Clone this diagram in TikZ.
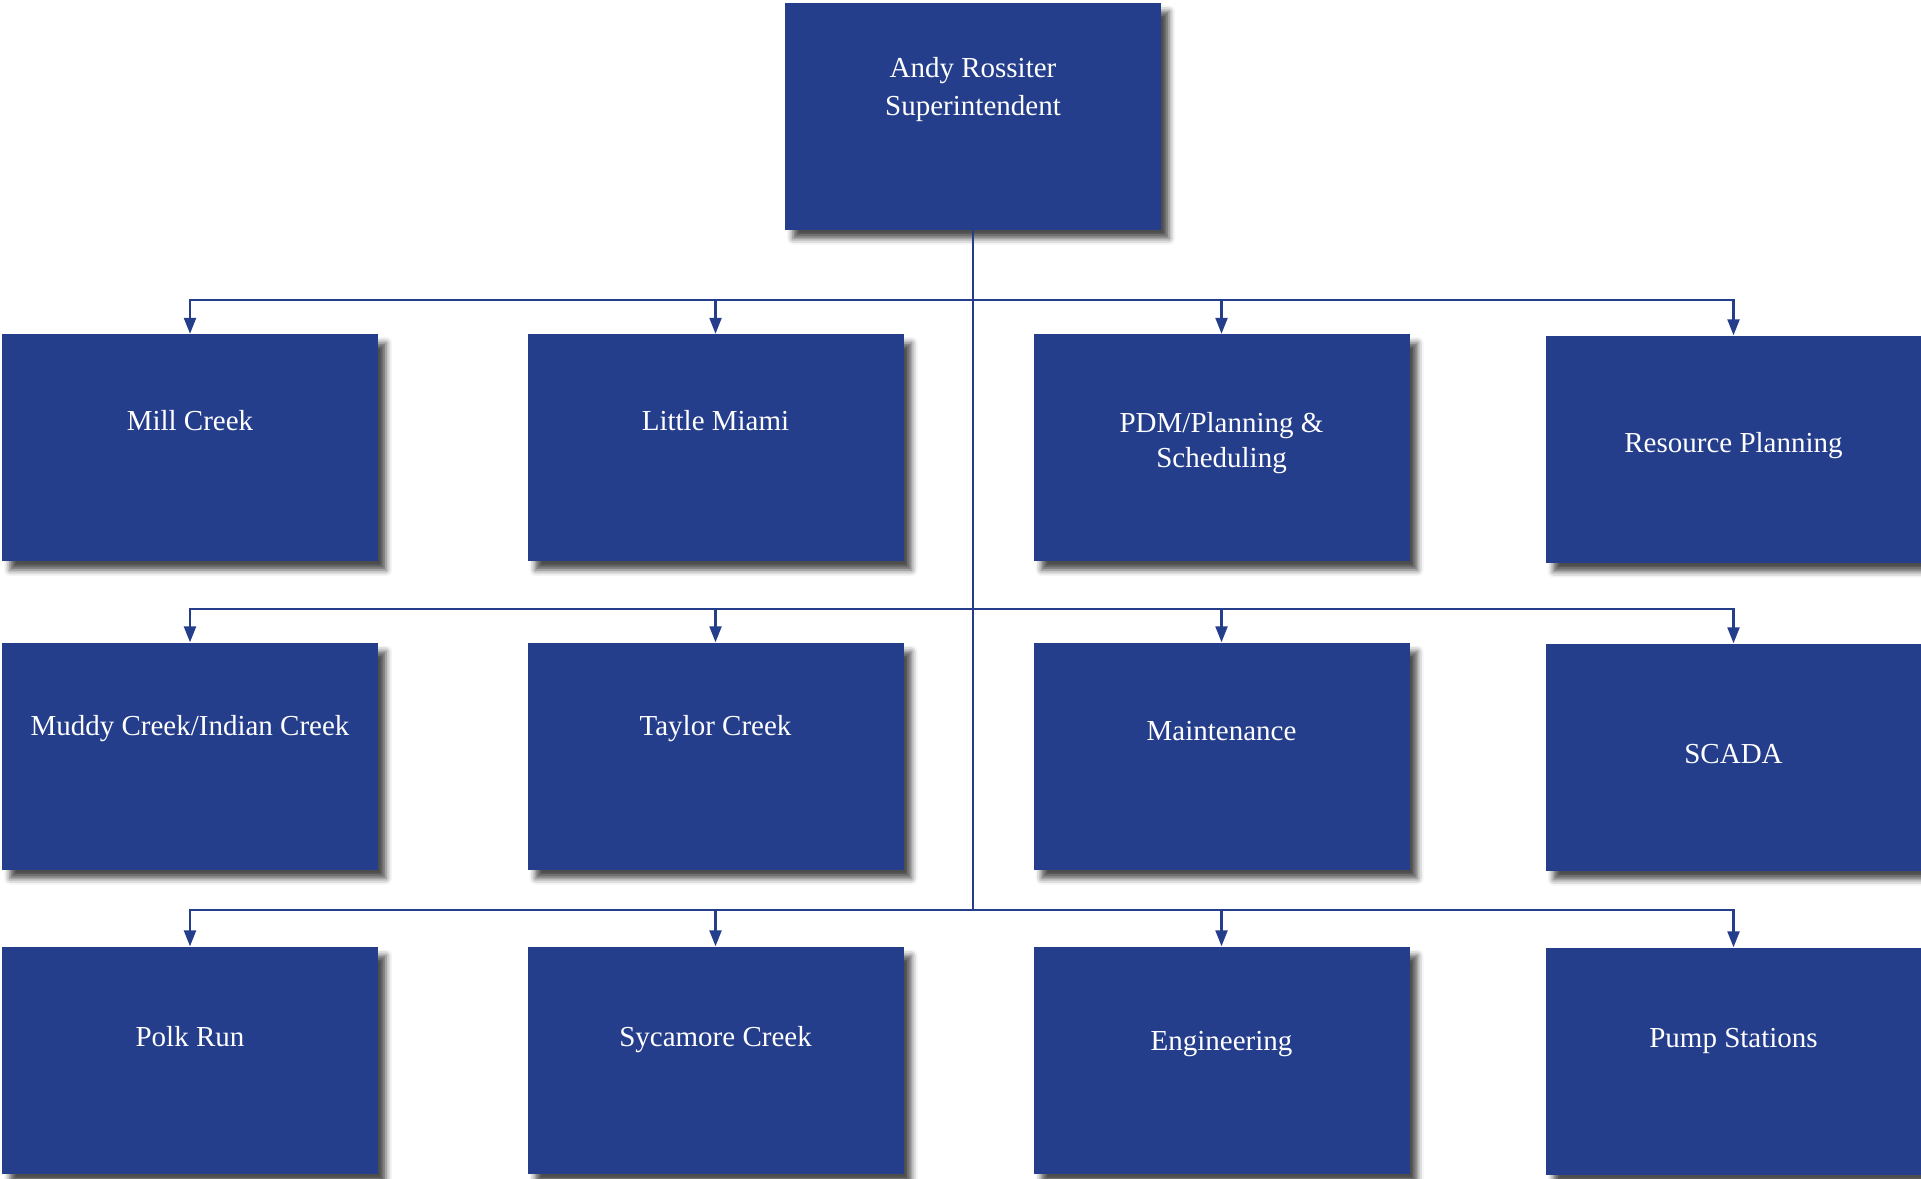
\documentclass[tikz,border=0pt]{standalone}
\usepackage{fontspec}
\setmainfont{Liberation Serif}
\usetikzlibrary{arrows.meta,shadows.blur}
\definecolor{orgblue}{RGB}{37,62,140}
\tikzset{
	unit/.style={fill=orgblue, text=white, minimum width=376pt, minimum height=227pt,
		inner sep=0pt, align=center, font=\fontsize{29}{35}\selectfont,
		blur shadow={shadow xshift=8pt, shadow yshift=-9pt, shadow blur radius=6pt, shadow opacity=70}},
	lift/.style={text depth=#1},
	trunk/.style={orgblue, line width=2.3pt},
	feed/.style={trunk, -{Triangle[length=16pt,width=12pt]}}
}
\begin{document}
\begin{tikzpicture}[x=1pt,y=-1pt]
	\useasboundingbox (0,0) rectangle (1921,1178);
	% head of the chart
	\node[unit, lift=60pt] (chief) at (973,116) {Andy Rossiter\\[3pt]Superintendent};
	% first row
	\node[unit, lift=55pt] (mill) at (190,447.5) {Mill Creek};
	\node[unit, lift=55pt] (miami) at (715.5,447.5) {Little Miami};
	\node[unit, lift=15pt] (pdm) at (1221.5,447.5) {PDM/Planning \&\\Scheduling};
	\node[unit, lift=14pt] (resource) at (1733.5,449) {Resource Planning};
	% second row
	\node[unit, lift=62pt] (muddy) at (190,756) {Muddy Creek/Indian Creek};
	\node[unit, lift=62pt] (taylor) at (715.5,756) {Taylor Creek};
	\node[unit, lift=50pt] (maint) at (1221.5,756) {Maintenance};
	\node[unit, lift=6pt] (scada) at (1733.5,757) {SCADA};
	% third row
	\node[unit, lift=47pt] (polk) at (190,1060) {Polk Run};
	\node[unit, lift=47pt] (sycamore) at (715.5,1060) {Sycamore Creek};
	\node[unit, lift=38pt] (eng) at (1221.5,1060) {Engineering};
	\node[unit, lift=46pt] (pump) at (1733.5,1061) {Pump Stations};
	% connectors
	\coordinate (bus1) at (973,300);
	\coordinate (bus2) at (973,609);
	\coordinate (bus3) at (973,910);
	\draw[trunk] (chief.south) -- (bus3);
	\draw[feed] (bus1) -| (mill.north);
	\draw[feed] (bus1) -| (miami.north);
	\draw[feed] (bus1) -| (pdm.north);
	\draw[feed] (bus1) -| (resource.north);
	\draw[feed] (bus2) -| (muddy.north);
	\draw[feed] (bus2) -| (taylor.north);
	\draw[feed] (bus2) -| (maint.north);
	\draw[feed] (bus2) -| (scada.north);
	\draw[feed] (bus3) -| (polk.north);
	\draw[feed] (bus3) -| (sycamore.north);
	\draw[feed] (bus3) -| (eng.north);
	\draw[feed] (bus3) -| (pump.north);
\end{tikzpicture}
\end{document}
